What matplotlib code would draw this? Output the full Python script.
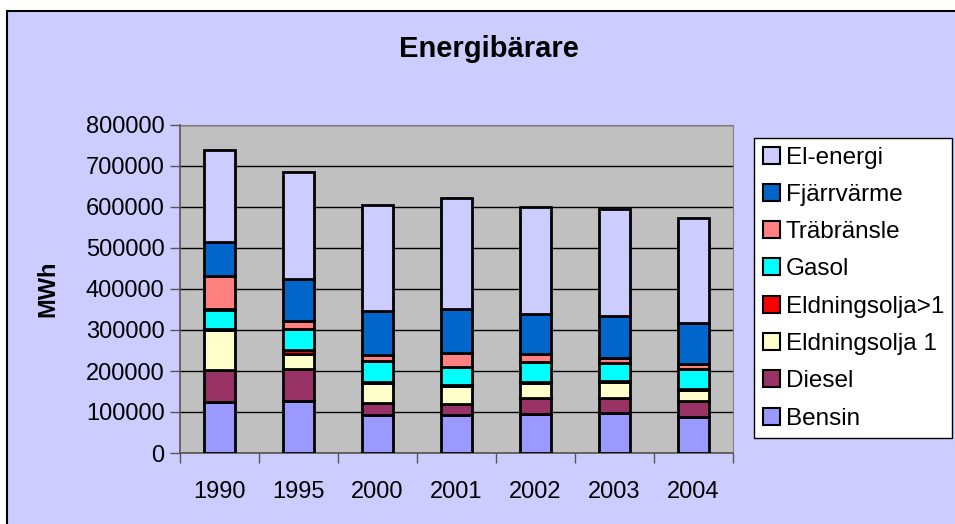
import matplotlib
matplotlib.use("Agg")
import matplotlib.pyplot as plt
from matplotlib.patches import Rectangle, Patch
import numpy as np

plt.rcParams['font.family'] = ['Liberation Sans', 'DejaVu Sans']

# data (MWh)
years = ["1990", "1995", "2000", "2001", "2002", "2003", "2004"]
bensin = [125000, 126000, 92000, 92000, 96000, 98000, 89000]
diesel = [77000, 78000, 31000, 28000, 37000, 37000, 38000]
eldningsolja_1 = [99000, 38000, 48000, 43000, 37000, 38000, 26000]
eldningsolja_gt1 = [2000, 10000, 3000, 2000, 2000, 3000, 2000]
gasol = [47000, 50000, 50000, 45000, 50000, 44000, 50000]
trabransle = [81000, 21000, 15000, 33000, 20000, 12000, 13000]
fjarrvarme = [83000, 101000, 108000, 108000, 96000, 103000, 99000]
el_energi = [226000, 261000, 259000, 270000, 263000, 260000, 256000]

series = [
    ("Bensin", bensin, "#9999FF"),
    ("Diesel", diesel, "#993366"),
    ("Eldningsolja 1", eldningsolja_1, "#FFFFCC"),
    ("Eldningsolja>1", eldningsolja_gt1, "#FF0000"),
    ("Gasol", gasol, "#00FFFF"),
    ("Träbränsle", trabransle, "#FF8080"),
    ("Fjärrvärme", fjarrvarme, "#0066CC"),
    ("El-energi", el_energi, "#CCCCFF"),
]

fig = plt.figure(figsize=(9.55, 5.24), dpi=100)
fig.patch.set_facecolor("white")
# lavender chart area with black frame
fig.patches.append(Rectangle((7 / 955, -0.05), 1.0, 1.05 - 11 / 524,
                             transform=fig.transFigure, facecolor="#CCCCFF",
                             edgecolor="black", linewidth=1.5, zorder=-5))

ax = fig.add_axes([180 / 955, 1 - 453 / 524, 553 / 955, 328 / 524])
ax.set_facecolor("#C0C0C0")

x = np.arange(len(years))
bottom = np.zeros(len(years))
for name, vals, color in series:
    ax.bar(x, vals, width=0.4, bottom=bottom, color=color, edgecolor="black",
           linewidth=2, label=name, zorder=3)
    bottom += np.array(vals)

ax.set_ylim(0, 800000)
ax.set_xlim(-0.5, len(years) - 0.5)
ax.set_yticks(np.arange(0, 800001, 100000))
ax.set_yticklabels([str(v) for v in range(0, 800001, 100000)])
ax.yaxis.grid(True, color="black", linewidth=1, zorder=1)
ax.set_axisbelow(True)

# categories labelled in the middle, ticks between them
ax.set_xticks(x)
ax.set_xticklabels(years)
ax.set_xticks(np.arange(-0.5, len(years), 1), minor=True)
ax.tick_params(axis="x", which="major", length=0, pad=20, labelsize=17)
ax.tick_params(axis="x", which="minor", length=7, width=1, color="#555555")
ax.tick_params(axis="y", length=7, width=1, color="#555555", labelsize=17, pad=4)

for side in ["top", "right"]:
    ax.spines[side].set_color("#808080")
for side in ["left", "bottom"]:
    ax.spines[side].set_color("#555555")
    ax.spines[side].set_linewidth(1.2)

fig.text(489 / 955, 1 - 49 / 524, "Energibärare", fontsize=21, fontweight="bold",
         ha="center", va="center")
fig.text(48 / 955, 1 - 289 / 524, "MWh", fontsize=17, fontweight="bold",
         rotation=90, ha="center", va="center")

handles = [Patch(facecolor=c, edgecolor="black", linewidth=1.5, label=n)
           for n, v, c in series][::-1]
leg = fig.legend(handles=handles, loc="upper left",
                 bbox_to_anchor=(754 / 955, 1 - 138 / 524),
                 bbox_transform=fig.transFigure, fontsize=17.5,
                 frameon=True, fancybox=False, framealpha=1,
                 edgecolor="black", handlelength=0.7, handleheight=0.7,
                 handletextpad=0.25, labelspacing=0.63, borderpad=0.35,
                 borderaxespad=0)
leg.get_frame().set_linewidth(1)

fig.savefig("out.png", dpi=100)
